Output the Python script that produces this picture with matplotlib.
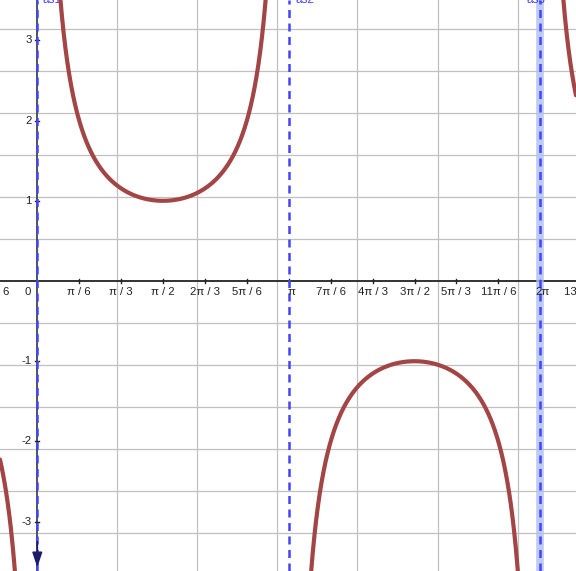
import numpy as np
import matplotlib
matplotlib.use("Agg")
import matplotlib.pyplot as plt

# ---- data ----
x_range = (-0.466, 6.730)
y_range = (-3.616, 3.504)
asymptotes = [0.0, np.pi, 2 * np.pi]
asym_labels = ["as1", "as2", "as3"]
xtick_mult = list(range(-1, 14))  # multiples of pi/6
xtick_labels = ["-π / 6", "0", "π / 6", "π / 3", "π / 2", "2π / 3", "5π / 6", "π",
                "7π / 6", "4π / 3", "3π / 2", "5π / 3", "11π / 6", "2π", "13π / 6"]
ytick_vals = [-3, -2, -1, 1, 2, 3]
vgrid = [1, 2, 3, 4, 5, 6]
hgrid_mult = list(range(-6, 7))  # multiples of pi/6


def csc(x):
    return 1.0 / np.sin(x)


plt.rcParams['font.family'] = ['Liberation Sans', 'DejaVu Sans']
fig = plt.figure(figsize=(5.76, 5.71), dpi=100)
ax = fig.add_axes([0, 0, 1, 1])
ax.set_xlim(*x_range)
ax.set_ylim(*y_range)
ax.axis('off')

# grid
for gx in vgrid:
    ax.axvline(gx, color='#c0c0c0', lw=0.9, zorder=1)
for k in hgrid_mult:
    if k != 0:
        ax.axhline(k * np.pi / 6, color='#c0c0c0', lw=0.9, zorder=1)

# axes
ax.axhline(0, color='#222222', lw=1.3, zorder=3)
ax.axvline(0, color='#444444', lw=1.3, zorder=3)

# x ticks
for m, lab in zip(xtick_mult, xtick_labels):
    xv = m * np.pi / 6
    if m != 0:
        ax.plot([xv, xv], [-0.03, 0.03], color='#222222', lw=1.0, zorder=3)
    dx = 0.0
    if lab in ("π", "2π"):
        dx = 0.03
    if m == 0:
        ax.text(-0.12, -0.08, "0", ha='center', va='top', fontsize=8.2, color='#222222', zorder=6)
    else:
        ax.text(xv + dx, -0.08, lab, ha='center', va='top', fontsize=8.2, color='#222222', zorder=6)

# y ticks
for yv in ytick_vals:
    ax.plot([-0.03, 0.02], [yv, yv], color='#222222', lw=1.0, zorder=4)
    ax.text(-0.07, yv, str(yv), ha='right', va='center', fontsize=8.2, color='#222222', zorder=6)

# highlight on the 2pi asymptote
ax.axvline(asymptotes[2], color='#aebff5', lw=5.5, alpha=0.8, zorder=4)

# asymptotes
for a in asymptotes:
    ax.axvline(a, color='#4444ff', lw=1.8, ls=(0, (3.2, 2.2)), zorder=5)

# asymptote labels (mostly cut off at top)
label_x = [0.07, np.pi + 0.09, 2 * np.pi - 0.17]
for lx, lab in zip(label_x, asym_labels):
    ax.text(lx, y_range[1] - 0.035, lab, ha='left', va='baseline', fontsize=8.5,
            color='#4444ff', clip_on=True, zorder=6)

# arrow at bottom of x=0
ax.annotate("", xy=(0, y_range[0] + 0.01), xytext=(0, y_range[0] + 0.4),
            arrowprops=dict(arrowstyle='-|>,head_length=0.9,head_width=0.3',
                            color='#1a1a6e', lw=1.2), zorder=7)

# curve
bounds = [x_range[0]] + asymptotes + [x_range[1]]
for a, b in zip(bounds[:-1], bounds[1:]):
    xs = np.linspace(a + 1e-4, b - 1e-4, 2000)
    ys = csc(xs)
    ys = np.clip(ys, -10, 10)
    ax.plot(xs, ys, color='#a34545', lw=3.0, solid_capstyle='round', zorder=6)

fig.savefig("out.png", dpi=100)
